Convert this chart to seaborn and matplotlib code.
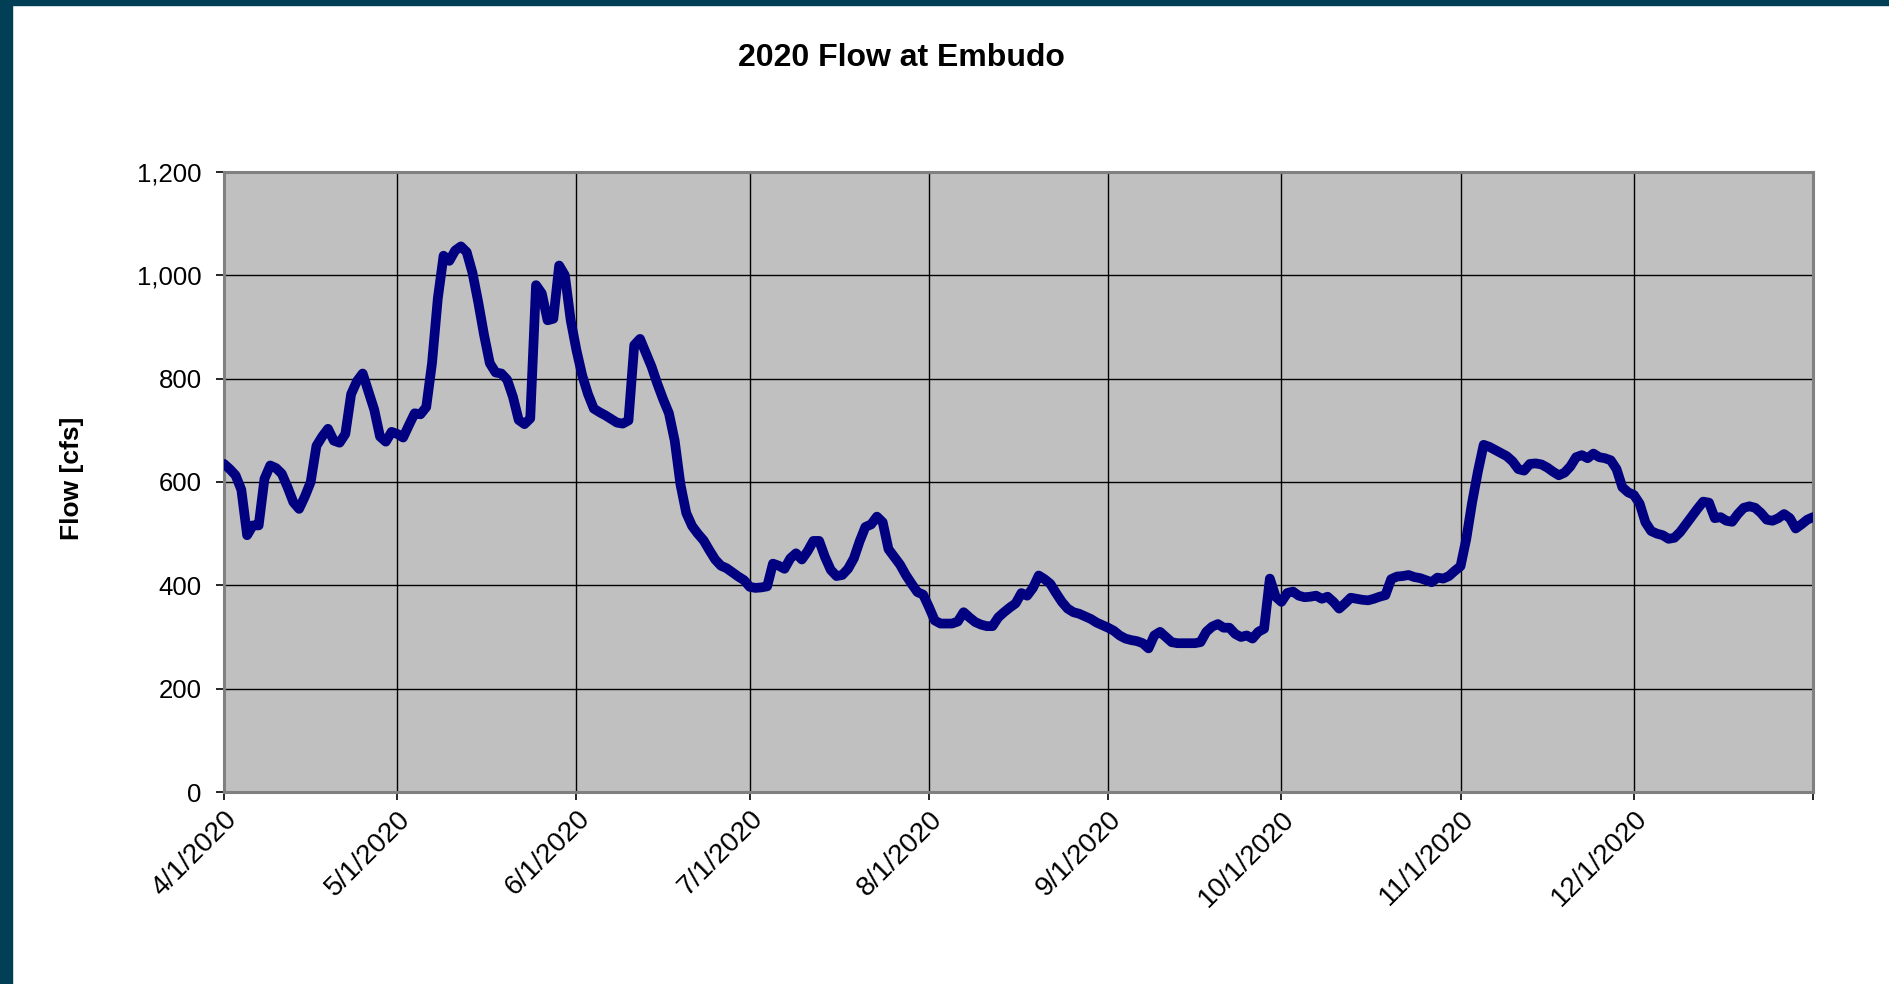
import pandas as pd
import matplotlib
matplotlib.use('Agg')
import matplotlib.pyplot as plt
from matplotlib.patches import Rectangle
from matplotlib.ticker import FuncFormatter
import seaborn as sns

# daily flow [cfs], 4/1/2020 .. 1/1/2021
apr = [635, 625, 613, 585, 497, 516, 516, 606, 632, 627,
       616, 590, 561, 548, 572, 600, 670, 688, 703, 680,
       676, 693, 770, 795, 810, 775, 740, 688, 678, 697]
may = [693, 686, 710, 733, 731, 745, 830, 955, 1038, 1028,
       1048, 1056, 1045, 1005, 948, 885, 830, 812, 810, 798,
       765, 720, 712, 723, 981, 965, 913, 916, 1019, 1000,
       913]
jun = [855, 806, 770, 742, 735, 729, 722, 715, 713, 719,
       865, 877, 850, 823, 790, 760, 733, 680, 595, 540,
       515, 500, 487, 468, 450, 438, 433, 425, 417, 410]
jul = [397, 395, 396, 398, 442, 438, 432, 452, 462, 450,
       466, 486, 486, 455, 430, 418, 420, 432, 452, 485,
       513, 518, 533, 522, 470, 455, 440, 420, 403, 387,
       382]
aug = [358, 332, 326, 326, 326, 330, 348, 338, 329, 324,
       321, 321, 338, 348, 357, 365, 385, 380, 395, 419,
       412, 403, 385, 368, 355, 348, 345, 340, 335, 328,
       323]
sep = [318, 312, 303, 297, 294, 292, 288, 278, 303, 310,
       300, 290, 288, 288, 288, 288, 290, 310, 320, 325,
       318, 318, 306, 300, 303, 297, 310, 316, 413, 378]
oct_ = [368, 385, 388, 380, 377, 378, 380, 374, 378, 368,
        355, 365, 376, 374, 372, 371, 374, 378, 381, 412,
        417, 418, 420, 416, 414, 410, 406, 415, 413, 418,
        428]
nov = [437, 490, 560, 620, 672, 668, 662, 656, 650, 640,
       625, 622, 635, 636, 634, 628, 620, 613, 618, 630,
       648, 652, 646, 655, 648, 646, 642, 625, 590, 580]
dec = [575, 558, 522, 505, 500, 497, 490, 492, 503, 518,
       533, 548, 562, 560, 530, 532, 525, 523, 538, 550,
       553, 550, 540, 527, 525, 530, 538, 530, 510, 518,
       527, 532]

flow = apr + may + jun + jul + aug + sep + oct_ + nov + dec
dates = pd.date_range('2020-04-01', periods=len(flow), freq='D')

tick_dates = pd.to_datetime(['2020-04-01', '2020-05-01', '2020-06-01', '2020-07-01',
                             '2020-08-01', '2020-09-01', '2020-10-01', '2020-11-01',
                             '2020-12-01', '2021-01-01'])
tick_labels = ['4/1/2020', '5/1/2020', '6/1/2020', '7/1/2020', '8/1/2020',
               '9/1/2020', '10/1/2020', '11/1/2020', '12/1/2020', '']

plt.rcParams['font.family'] = ['Liberation Sans', 'DejaVu Sans']

fig = plt.figure(figsize=(18.9, 9.84), dpi=100)
fig.patch.set_facecolor('white')
ax = fig.add_axes([224 / 1890, 192 / 984, 1589 / 1890, 620 / 984])
ax.set_facecolor('#c0c0c0')

sns.lineplot(x=dates, y=flow, ax=ax, color='#000080', linewidth=7,
             solid_joinstyle='round', solid_capstyle='round', zorder=3)

ax.set_xlim(tick_dates[0], tick_dates[-1])
ax.set_ylim(0, 1200)
ax.set_yticks(range(0, 1201, 200))
ax.yaxis.set_major_formatter(FuncFormatter(lambda v, p: f'{int(v):,}'))
ax.set_xticks(tick_dates)
ax.set_xticklabels(tick_labels, rotation=45, ha='right', va='top',
                   rotation_mode='anchor', fontsize=20)

ax.grid(True, color='black', linewidth=1.0, zorder=1)
ax.set_axisbelow(True)
for s in ax.spines.values():
    s.set_color('#808080')
    s.set_linewidth(2.2)
ax.tick_params(axis='both', direction='out', length=6, width=1.2,
               color='black', labelcolor='black')
ax.tick_params(axis='y', pad=10, labelsize=18.5)
ax.tick_params(axis='x', pad=4)

ax.set_xlabel('')
ax.set_ylabel('')
fig.text(72 / 1890, 1 - 478 / 984, 'Flow [cfs]', rotation=90, ha='center',
         va='center', fontsize=19, fontweight='bold')
fig.text(901 / 1890, 1 - 58 / 984, '2020 Flow at Embudo',
         ha='center', va='center', fontsize=23, fontweight='bold')

# dark frame on the left and top edge
fig.add_artist(Rectangle((0, 0), 12 / 1890, 1, transform=fig.transFigure,
                         color='#003f56', zorder=10))
fig.add_artist(Rectangle((0, 1 - 5 / 984), 1, 5 / 984, transform=fig.transFigure,
                         color='#003f56', zorder=10))

fig.savefig('out.png', dpi=100)
